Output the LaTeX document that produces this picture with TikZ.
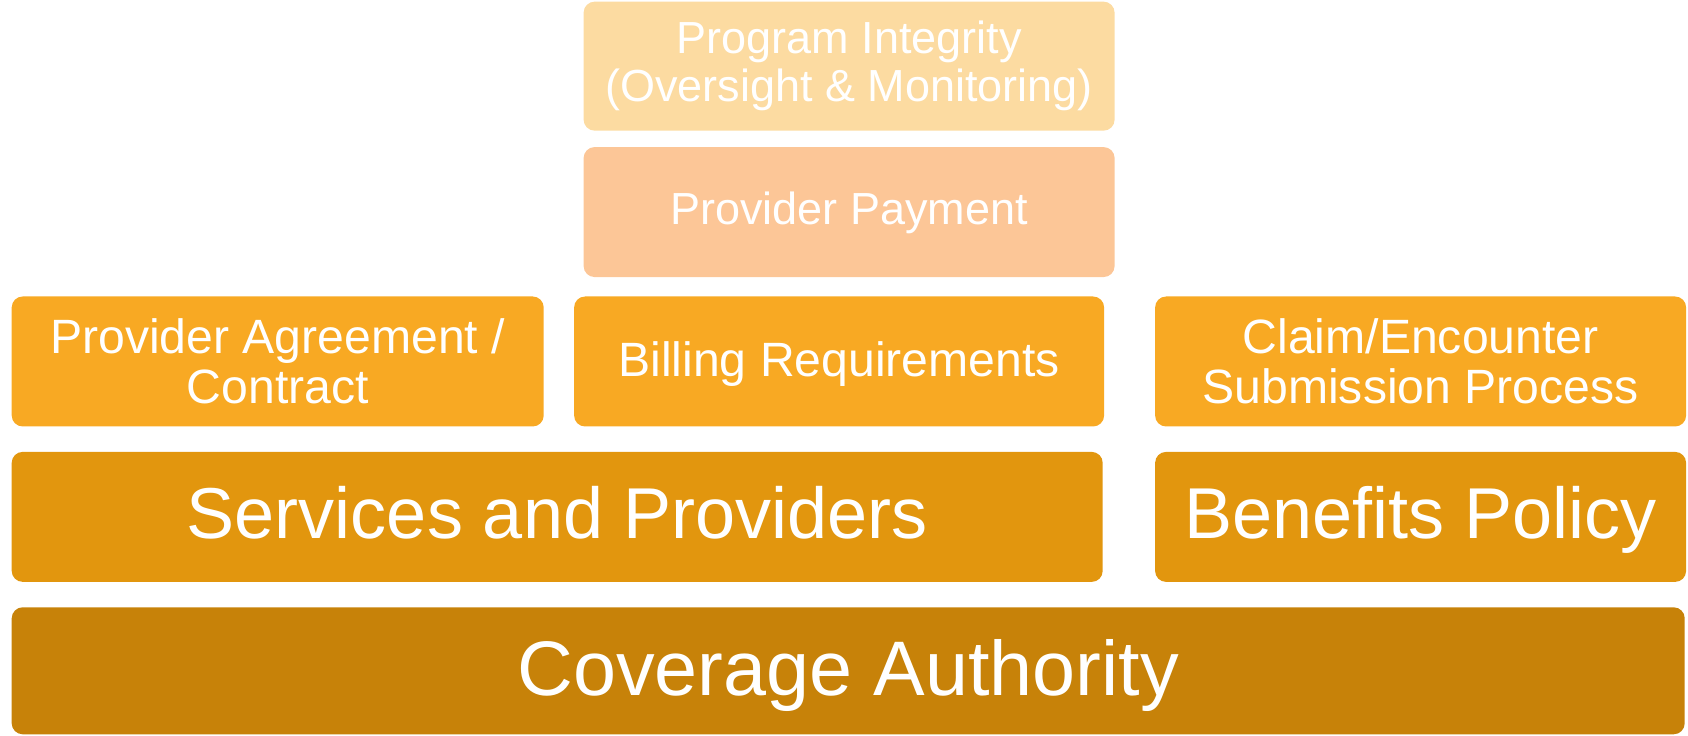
\documentclass[tikz,border=0pt]{standalone}
\usepackage{fontspec}
\setmainfont{Liberation Sans}
\usetikzlibrary{positioning}
\definecolor{integcol}{HTML}{FCDBA1}
\definecolor{paycol}{HTML}{FCC697}
\definecolor{rowcol}{HTML}{F8A923}
\definecolor{servcol}{HTML}{E2960E}
\definecolor{covercol}{HTML}{C78209}

\begin{document}
\begin{tikzpicture}[
			block/.style={rectangle, rounded corners=1.1mm, inner sep=0pt, minimum height=13mm, text=white, align=center},
			small/.style={block, font=\fontsize{13.7}{14.2}\selectfont},
			upper/.style={block, font=\fontsize{12.8}{13.6}\selectfont},
			big/.style={block, font=\fontsize{20.5}{22}\selectfont, text height=16.4pt, text depth=4.1pt}]
			
			\useasboundingbox (0,0) rectangle (16.88,7.36);
			
			% Drawing the foundation
			\node[block, fill=covercol, minimum width=16.73cm, minimum height=12.7mm, anchor=south west, font=\fontsize{22}{24}\selectfont, text height=18pt, text depth=4pt] (coverage) at (0.11,0.01) {Coverage Authority};
			
			% Second row
			\node[big, fill=servcol, minimum width=10.91cm, above=2.4mm of coverage.north west, anchor=south west] (services) {Services and Providers};
			\node[big, fill=servcol, minimum width=5.31cm, right=5.1mm of services] (benefits) {Benefits Policy};
			
			% Third row
			\node[small, fill=rowcol, minimum width=5.32cm, above=2.4mm of services.north west, anchor=south west] (agree) {Provider Agreement /\\Contract};
			\node[small, fill=rowcol, minimum width=5.30cm, right=2.9mm of agree, text height=11pt, text depth=2.7pt] (billing) {Billing Requirements};
			\node[small, fill=rowcol, minimum width=5.31cm, above=2.4mm of benefits] (claim) {Claim/Encounter\\Submission Process};
			
			% Upper blocks
			\node[upper, fill=paycol, minimum width=5.31cm, above=1.8mm of billing, xshift=1mm, text height=10pt, text depth=2.8pt] (payment) {Provider Payment};
			\node[upper, fill=integcol, minimum width=5.31cm, minimum height=12.9mm, above=1.5mm of payment] (integ) {Program Integrity\\(Oversight \& Monitoring)};
		\end{tikzpicture}
\end{document}
